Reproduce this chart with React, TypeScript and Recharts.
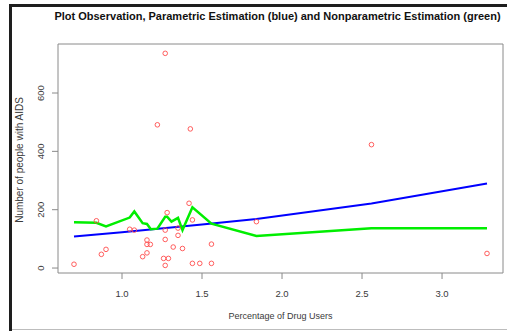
import {
  ComposedChart,
  Scatter,
  Line,
  XAxis,
  YAxis,
  ReferenceArea,
} from 'recharts';

// observed points (percentage of drug users, number of people with AIDS)
const obsX = [
  0.70, 0.84, 0.871, 0.90, 1.048, 1.077, 1.129, 1.156, 1.156, 1.156, 1.177,
  1.221, 1.26, 1.27, 1.27, 1.27, 1.27, 1.282, 1.29, 1.32, 1.35, 1.35, 1.378,
  1.419, 1.427, 1.44, 1.44, 1.486, 1.559, 1.559, 1.84, 2.559, 3.281,
];
const obsY = [
  13, 162, 47, 64, 133, 130, 39, 52, 96, 81, 81,
  491, 33, 130, 98, 9, 736, 190, 33, 72, 137, 112, 67,
  222, 477, 165, 16, 16, 82, 16, 159, 423, 50,
];

// parametric fit (blue)
const paramX = [0.70, 1.0, 1.5, 1.84, 2.559, 3.281];
const paramY = [108, 123, 149, 168, 221, 290];

// nonparametric fit (green)
const npX = [
  0.70, 0.84, 0.90, 1.048, 1.077, 1.129, 1.156, 1.18, 1.221, 1.27, 1.282,
  1.309, 1.35, 1.378, 1.44, 1.559, 1.84, 2.559, 3.281,
];
const npY = [
  157, 155, 143, 173, 194, 154, 151, 133, 135, 176, 176,
  159, 172, 130, 208, 152, 110, 136, 136,
];

const xTicks = [1.0, 1.5, 2.0, 2.5, 3.0];
const yTicks = [0, 200, 400, 600];

const points = obsX.map((x, i) => ({ x, y: obsY[i] }));
const paramData = paramX.map((x, i) => ({ x, y: paramY[i] }));
const npData = npX.map((x, i) => ({ x, y: npY[i] }));

const AXIS_GREY = '#8a8a8a';
const TEXT = '#3a3a3a';
const FONT = 'Liberation Sans, Arial, sans-serif';

const XTick = (props: any) => (
  <text
    x={props.x}
    y={296.5}
    textAnchor="middle"
    fontSize={9.5}
    fontFamily={FONT}
    fill={TEXT}
  >
    {props.payload.value.toFixed(1)}
  </text>
);

const YTick = (props: any) => (
  <text
    x={44}
    y={props.y}
    textAnchor="middle"
    fontSize={9.5}
    fontFamily={FONT}
    fill={TEXT}
    transform={`rotate(-90, 44, ${props.y})`}
  >
    {props.payload.value}
  </text>
);

const Ring = (props: any) => (
  <circle
    cx={props.cx}
    cy={props.cy}
    r={2.3}
    fill="none"
    stroke="#ff4d4d"
    strokeWidth={0.9}
  />
);

export default function App() {
  return (
    <div
      style={{
        position: 'absolute',
        left: 0,
        top: 0,
        width: 507,
        height: 331,
        background: '#fff',
        overflow: 'hidden',
      }}
    >
      <ComposedChart
        width={507}
        height={331}
        margin={{ top: 44, right: 4, bottom: 28, left: 28 }}
      >
        <XAxis
          type="number"
          dataKey="x"
          domain={[0.6, 3.381]}
          ticks={xTicks}
          allowDataOverflow
          height={30}
          tickSize={6}
          axisLine={false}
          tickLine={{ stroke: AXIS_GREY }}
          tick={<XTick />}
        />
        <YAxis
          type="number"
          dataKey="y"
          domain={[-17, 768]}
          ticks={yTicks}
          allowDataOverflow
          width={30}
          tickSize={6}
          axisLine={false}
          tickLine={{ stroke: AXIS_GREY }}
          tick={<YTick />}
        />
        <ReferenceArea
          x1={0.6}
          x2={3.381}
          y1={-17}
          y2={768}
          fill="none"
          stroke={AXIS_GREY}
          strokeWidth={1}
        />
        <Scatter data={points} shape={<Ring />} isAnimationActive={false} />
        <Line
          data={paramData}
          dataKey="y"
          type="linear"
          stroke="#0000ff"
          strokeWidth={2}
          dot={false}
          isAnimationActive={false}
        />
        <Line
          data={npData}
          dataKey="y"
          type="linear"
          stroke="#00ee00"
          strokeWidth={2.5}
          dot={false}
          isAnimationActive={false}
        />
      </ComposedChart>

      <svg
        width={507}
        height={331}
        style={{ position: 'absolute', left: 0, top: 0, pointerEvents: 'none' }}
      >
        <text
          x={277.5}
          y={20}
          textAnchor="middle"
          fontSize={11}
          fontWeight="bold"
          fontFamily={FONT}
          fill="#111"
        >
          Plot Observation, Parametric Estimation (blue) and Nonparametric Estimation (green)
        </text>
        <text
          x={280.5}
          y={319}
          textAnchor="middle"
          fontSize={9}
          fontFamily={FONT}
          fill={TEXT}
        >
          Percentage of Drug Users
        </text>
        <text
          x={23}
          y={160}
          textAnchor="middle"
          fontSize={10}
          fontFamily={FONT}
          fill={TEXT}
          transform="rotate(-90, 23, 160)"
        >
          Number of people with AIDS
        </text>
        {/* window frame */}
        <rect x={9} y={4} width={498} height={3} fill="#1e1e1e" />
        <rect x={9} y={4} width={3} height={327} fill="#1e1e1e" />
        <rect x={12} y={329} width={495} height={1} fill="#bdbdbd" />
      </svg>
    </div>
  );
}
